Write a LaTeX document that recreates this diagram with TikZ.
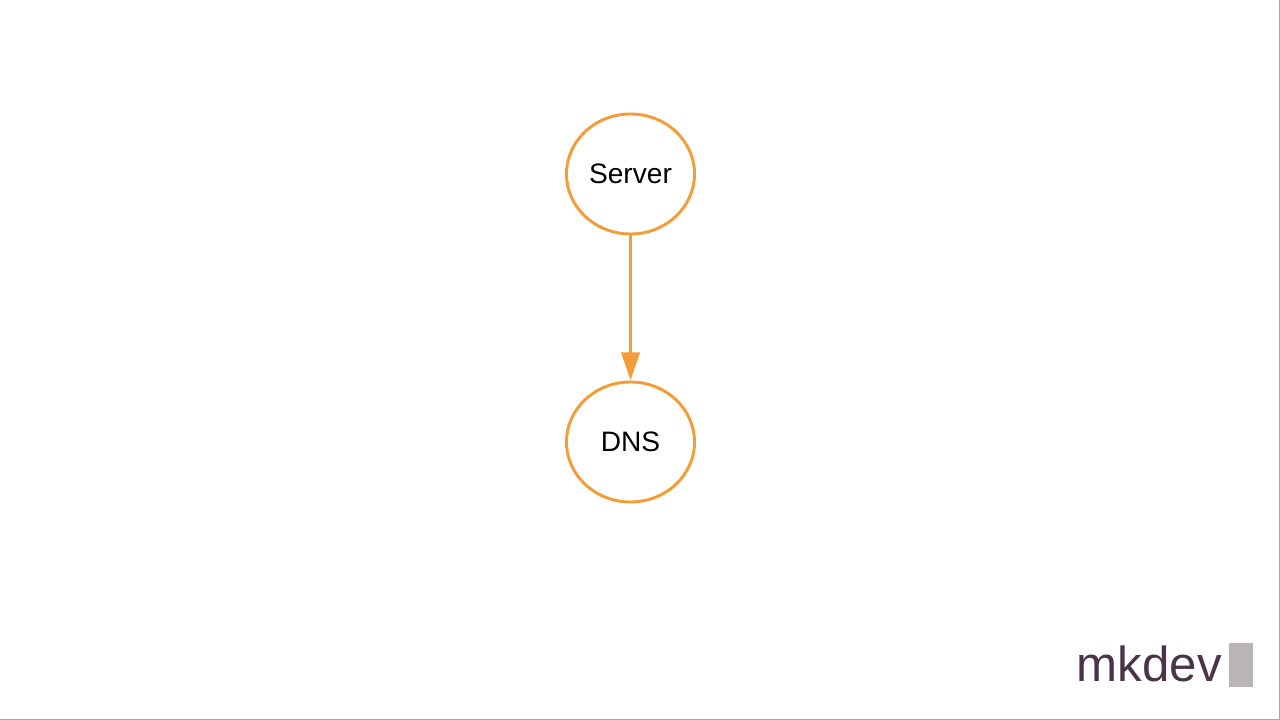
\documentclass[tikz,border=0pt]{standalone}
\usepackage{fontspec}
\setmainfont{Liberation Sans}
\usetikzlibrary{positioning, arrows.meta, shapes.geometric}
\definecolor{dnsorange}{HTML}{F39C3A}
\definecolor{logopurple}{HTML}{4A3548}
\definecolor{logogray}{HTML}{B8B4B8}
\tikzset{
        host/.style={
            ellipse, draw=dnsorange, line width=2.1pt, fill=white,
            minimum width=3.2cm, minimum height=3.0cm, inner sep=0pt,
            font=\fontsize{20}{24}\selectfont
        },
        flow/.style={draw=dnsorange, line width=2.5pt,
            -{Triangle[length=0.7cm, width=0.45cm]}},
}
\begin{document}
\begin{tikzpicture}[x=0.025cm, y=0.025cm]

        % CANVAS
        \useasboundingbox (0,0) rectangle (1280,-720);
        \draw[gray!70, line width=0.6pt] (0,-719.5) -- (1279.5,-719.5) -- (1279.5,0);

        % DRAW NODES
        \node[host] (server) at (630.5,-174) {Server};
        \node[host] (dns)    at (630.5,-442) {DNS};

        % CONNECT
        \draw[flow] (server) -- (dns);

        % LOGO
        \node[anchor=base east, inner sep=0pt, text=logopurple,
              font=\fontsize{35}{40}\selectfont] (logo) at (1222,-681) {mkdev};
        \fill[logogray] (1229,-643) rectangle (1253,-687);

    \end{tikzpicture}
\end{document}
